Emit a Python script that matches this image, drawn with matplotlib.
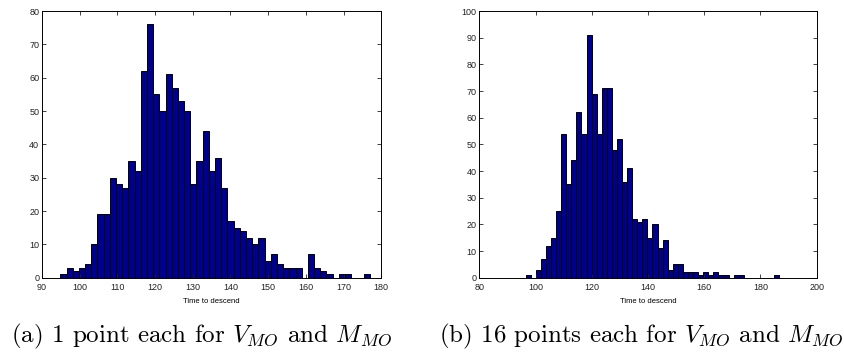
import numpy as np
import matplotlib
matplotlib.use("Agg")
import matplotlib.pyplot as plt

# histogram counts (50 bins each)
counts_a = [1, 3, 2, 3, 4, 10, 19, 19, 30, 28,
            27, 35, 32, 62, 76, 55, 50, 61, 57, 53,
            50, 28, 35, 44, 32, 36, 27, 17, 15, 14,
            12, 10, 12, 5, 7, 4, 3, 3, 3, 0,
            7, 3, 2, 1, 0, 1, 1, 0, 0, 1]
range_a = (94.86, 176.96)

counts_b = [1, 0, 3, 7, 12, 15, 25, 54, 35, 44,
            62, 54, 91, 69, 54, 71, 71, 48, 52, 36,
            41, 22, 21, 22, 15, 20, 11, 14, 3, 5,
            5, 2, 2, 2, 1, 2, 1, 2, 1, 1,
            0, 1, 1, 0, 0, 0, 0, 0, 0, 1]
range_b = (96.5, 186.7)

xlim_a, xticks_a, ylim_a, yticks_a = (90, 180), range(90, 181, 10), (0, 80), range(0, 81, 10)
xlim_b, xticks_b, ylim_b, yticks_b = (80, 200), range(80, 201, 20), (0, 100), range(0, 101, 10)

xlabel = "Time to descend"
caption_a = r"(a) 1 point each for $V_{MO}$ and $M_{MO}$"
caption_b = r"(b) 16 points each for $V_{MO}$ and $M_{MO}$"

plt.rcParams["mathtext.fontset"] = "cm"

fig = plt.figure(figsize=(8.45, 3.6), dpi=100)
ax_a = fig.add_axes([0.0497, 0.2286, 0.4015, 0.7408])
ax_b = fig.add_axes([0.5672, 0.2286, 0.3993, 0.7408])

panels = [
    (ax_a, counts_a, range_a, xlim_a, xticks_a, ylim_a, yticks_a, caption_a, 0.47),
    (ax_b, counts_b, range_b, xlim_b, xticks_b, ylim_b, yticks_b, caption_b, 0.48),
]

for ax, counts, rng, xlim, xticks, ylim, yticks, caption, cx in panels:
    edges = np.linspace(rng[0], rng[1], len(counts) + 1)
    ax.bar(edges[:-1], counts, width=np.diff(edges), align="edge",
           color="#00008f", edgecolor="black", linewidth=0.7)
    ax.set_xlim(*xlim)
    ax.set_ylim(*ylim)
    ax.set_xticks(list(xticks))
    ax.set_yticks(list(yticks))
    ax.tick_params(direction="in", top=True, right=True, length=3, width=0.6,
                   labelsize=6.5, colors="#222222", pad=2)
    ax.tick_params(axis="x", pad=4)
    for lab in ax.get_xticklabels() + ax.get_yticklabels():
        lab.set_family("Liberation Sans")
    for s in ax.spines.values():
        s.set_linewidth(0.7)
    ax.set_xlabel(xlabel, fontsize=5.5, family="Liberation Sans", labelpad=4)
    ax.text(cx, -0.222, caption, transform=ax.transAxes, ha="center", va="center",
            fontsize=18, family="cmr10")

fig.savefig("out.png", dpi=100)
